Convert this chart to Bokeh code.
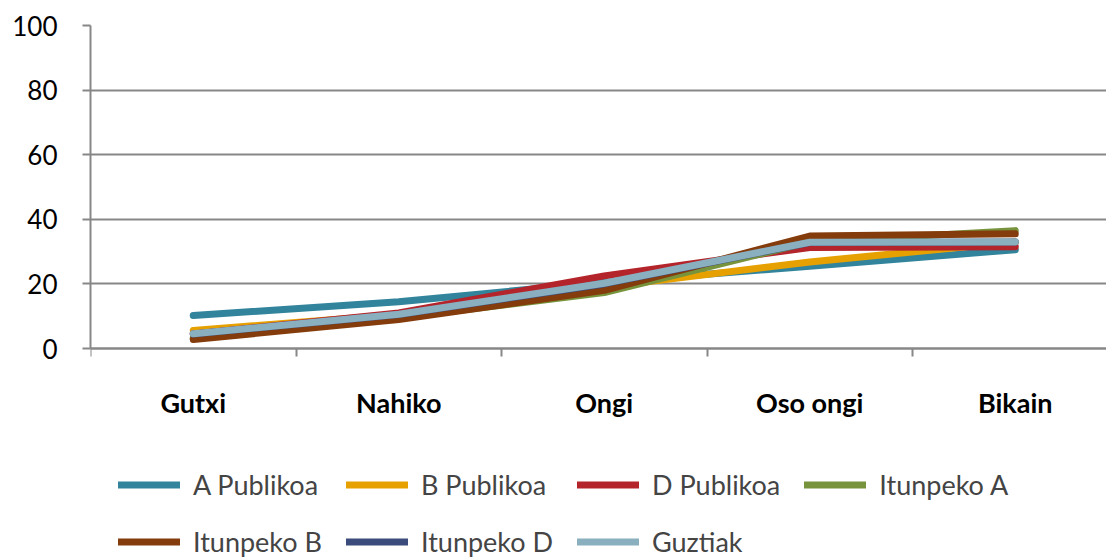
from bokeh.plotting import figure
from bokeh.models import FixedTicker, Legend, LegendItem
from bokeh.embed import file_html
from bokeh.resources import INLINE

categories = ["Gutxi", "Nahiko", "Ongi", "Oso ongi", "Bikain"]
series_names = ["A Publikoa", "B Publikoa", "D Publikoa", "Itunpeko A",
                "Itunpeko B", "Itunpeko D", "Guztiak"]
a_publikoa = [10.2, 14.5, 20.5, 25.5, 30.6]
b_publikoa = [5.6, 10.5, 19.0, 26.8, 33.0]
d_publikoa = [4.5, 11.0, 22.5, 31.3, 31.5]
itunpeko_a = [3.2, 9.5, 17.3, 33.0, 36.5]
itunpeko_b = [2.8, 9.0, 18.0, 34.8, 35.5]
itunpeko_d = [4.5, 10.5, 20.0, 32.8, 33.0]
guztiak = [4.6, 10.6, 20.2, 32.9, 33.0]
series_values = [a_publikoa, b_publikoa, d_publikoa, itunpeko_a,
                 itunpeko_b, itunpeko_d, guztiak]
colors = ["#31849B", "#E6A100", "#B3242B", "#77933C", "#843C0C", "#3B4B7B", "#8AAFBF"]
y_ticks = [0, 20, 40, 60, 80, 100]

FONT = "Lato"
GRAY = "#878787"

# frame extends below 0 so that the legend area lies inside it (no clipping)
p = figure(width=1106, height=558, output_backend="svg", toolbar_location=None,
           x_range=(-0.5, 4.444), y_range=(-65, 100),
           min_border_left=90, min_border_right=0, min_border_top=25, min_border_bottom=0)
p.outline_line_color = None
p.background_fill_color = "white"

xs = list(range(len(categories)))
items = []
for name, vals, col in zip(series_names, series_values, colors):
    r = p.line(xs, vals, line_color=col, line_width=7, line_cap="round", line_join="round")
    items.append(LegendItem(label=name, renderers=[r]))

# y axis
p.yaxis.ticker = FixedTicker(ticks=y_ticks)
p.yaxis.bounds = (0, 100)
p.yaxis.axis_line_color = GRAY
p.yaxis.axis_line_width = 2
p.yaxis.major_tick_line_color = GRAY
p.yaxis.major_tick_line_width = 2
p.yaxis.major_tick_out = 8
p.yaxis.major_tick_in = 0
p.yaxis.minor_tick_line_color = None
p.yaxis.major_label_text_font = FONT
p.yaxis.major_label_text_font_size = "26px"
p.yaxis.major_label_text_color = "black"
p.yaxis.major_label_standoff = 25

p.ygrid.grid_line_color = GRAY
p.ygrid.grid_line_width = 2
p.xgrid.grid_line_color = None

# x axis, placed at y = 0
p.xaxis.fixed_location = 0
p.xaxis.ticker = FixedTicker(ticks=xs, minor_ticks=[i - 0.5 for i in xs])
p.xaxis.major_label_overrides = {i: c for i, c in enumerate(categories)}
p.xaxis.axis_line_color = GRAY
p.xaxis.axis_line_width = 2
p.xaxis.major_tick_line_color = None
p.xaxis.major_tick_out = 0
p.xaxis.major_tick_in = 0
p.xaxis.minor_tick_line_color = GRAY
p.xaxis.minor_tick_line_width = 2
p.xaxis.minor_tick_out = 8
p.xaxis.minor_tick_in = 0
p.xaxis.major_label_text_font = FONT
p.xaxis.major_label_text_font_size = "27px"
p.xaxis.major_label_text_font_style = "bold"
p.xaxis.major_label_text_color = "black"
p.xaxis.major_label_standoff = 29

legend = Legend(items=items, orientation="horizontal", ncols=4,
                location=(28, 0), border_line_color=None,
                label_text_font=FONT, label_text_font_size="27px",
                glyph_width=62, glyph_height=27, label_standoff=13,
                spacing=24, padding=0, margin=0, background_fill_alpha=0)
p.add_layout(legend, "center")

open("out.html", "w").write(file_html(p, INLINE))
